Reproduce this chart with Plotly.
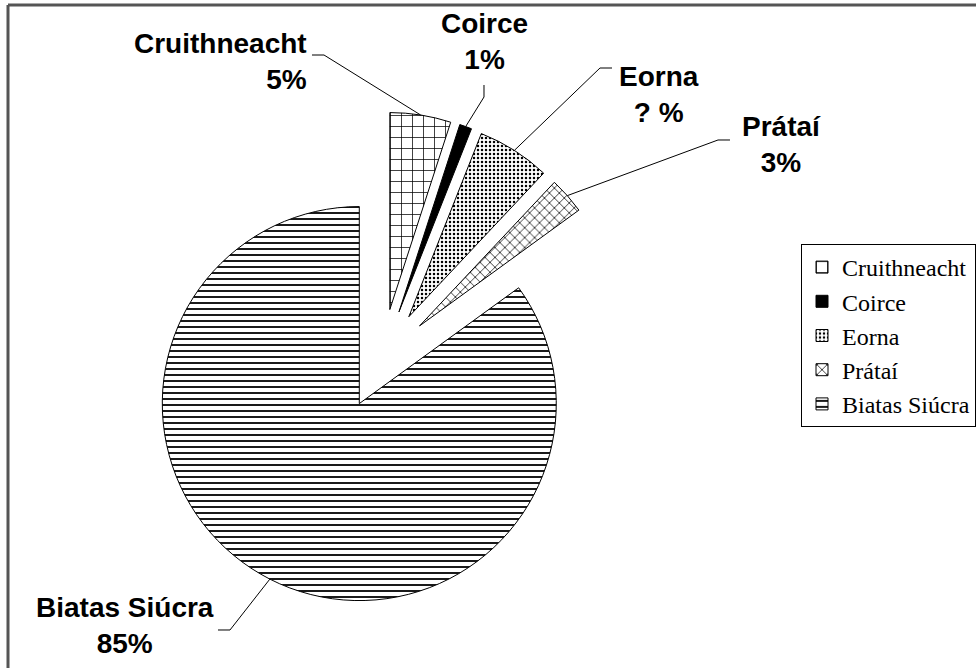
import math
import plotly.graph_objects as go

# ---------------- data ----------------
crops = ["Cruithneacht", "Coirce", "Eorna", "Prátaí", "Biatas Siúcra"]
shares = [5, 1, 6, 3, 85]
share_labels = ["5%", "1%", "? %", "3%", "85%"]

# ---------------- layout / style ----------------
W, H = 976, 668
CX, CY = 382, 359          # pie centre (px)
R = 197                    # pie radius (px)
PULL = 0.254               # explode fraction

slice_colors = ["white", "black", "white", "white", "white"]
pattern_shapes = ["+", "", ".", "x", "-"]
pattern_sizes = [11, 8, 4, 7, 6]
pattern_solid = [0.13, 0.3, 0.3, 0.2, 0.3]

# label boxes: (x, y, xanchor, align)
label_pos = [(309, 61, "right", "right"),
             (484, 41, "center", "center"),
             (659, 94, "center", "center"),
             (781, 144, "center", "center"),
             (125, 625, "center", "center")]
leader_start = [(312, 55), (484, 85), (612, 68), (730, 140), (218, 630)]
leader_elbow = [(324, 55), (484, 97), (600, 68), (718, 140), (230, 630)]

half = R * (1 + PULL)
domain_x = [(CX - half) / W, (CX + half) / W]
domain_y = [1 - (CY + half) / H, 1 - (CY - half) / H]

fig = go.Figure(go.Pie(
    labels=crops, values=shares, sort=False, direction="clockwise", rotation=0,
    pull=[PULL] * len(shares), textinfo="none", hoverinfo="label+percent",
    marker=dict(colors=slice_colors, line=dict(color="black", width=1),
                pattern=dict(shape=pattern_shapes, fgcolor="black",
                             size=pattern_sizes, solidity=pattern_solid)),
    domain=dict(x=domain_x, y=domain_y),
))

def px(x, y):
    return x / W, 1 - y / H

# leader end points derived from the slice geometry
total = sum(shares)
cum = 0
shapes = []
annotations = []
for i, v in enumerate(shares):
    th = 2 * math.pi * (cum + v / 2) / total
    cum += v
    ex = CX + (1 + PULL) * R * math.sin(th)
    ey = CY - (1 + PULL) * R * math.cos(th)
    pts = [leader_start[i], leader_elbow[i], (ex, ey)]
    path = "M " + " L ".join(f"{px(a, b)[0]:.5f},{px(a, b)[1]:.5f}" for a, b in pts)
    shapes.append(dict(type="path", xref="paper", yref="paper", path=path,
                       line=dict(color="black", width=1)))
    lx, ly, xa, al = label_pos[i]
    annotations.append(dict(
        x=px(lx, ly)[0], y=px(lx, ly)[1], xref="paper", yref="paper",
        xanchor=xa, yanchor="middle", align=al, showarrow=False,
        text=f"{crops[i]}<br>{share_labels[i]}",
        font=dict(family="Liberation Sans, Arial", size=28, color="black", weight="bold"),
    ))

# chart frame (top and left edges)
shapes.append(dict(type="line", xref="paper", yref="paper",
                   x0=8 / W, y0=0, x1=8 / W, y1=1 - 5 / H,
                   line=dict(color="#555555", width=3)))
shapes.append(dict(type="line", xref="paper", yref="paper",
                   x0=8 / W, y0=1 - 5 / H, x1=1, y1=1 - 5 / H,
                   line=dict(color="#555555", width=3)))

fig.update_layout(
    width=W, height=H, margin=dict(l=0, r=0, t=0, b=0),
    paper_bgcolor="white", plot_bgcolor="white",
    shapes=shapes, annotations=annotations,
    showlegend=True,
    legend=dict(x=1, y=1 - 244 / H, xanchor="right", yanchor="top",
                bordercolor="black", borderwidth=1, bgcolor="white",
                font=dict(family="Liberation Serif, Times New Roman", size=24, color="black")),
)

fig.write_html("out.html", config={"displayModeBar": False},
               post_script="document.body.style.margin='0';document.body.style.overflow='hidden';")
